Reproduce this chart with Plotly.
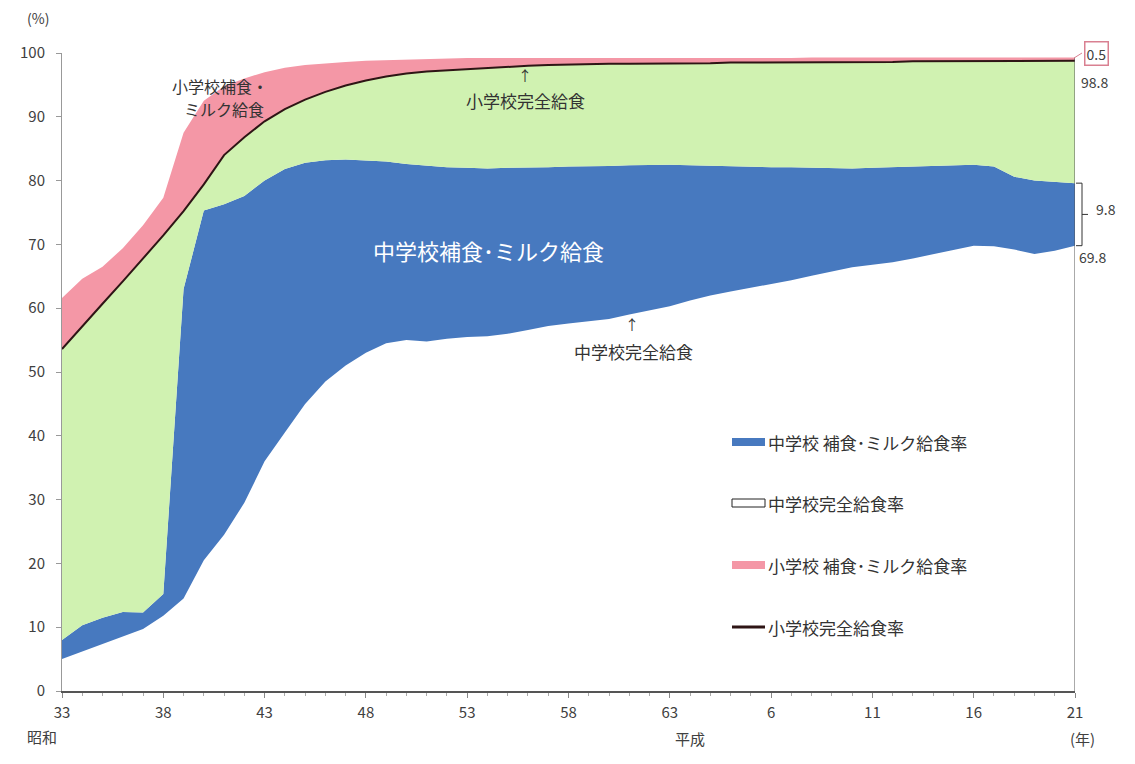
import plotly.graph_objects as go

# School-year categories: Showa 33-63, then Heisei 2-21
year_labels = [str(y) for y in range(33, 64)] + [str(y) for y in range(2, 22)]
tick_every = 5

# Middle school: complete meal rate (%)
jhs_complete = [
    5.0, 6.2, 7.4, 8.5, 9.7, 11.8, 14.5, 20.5, 24.5, 29.5,
    36.0, 40.5, 45.0, 48.5, 51.0, 53.0, 54.5, 55.0, 54.8, 55.2,
    55.5, 55.6, 56.0, 56.6, 57.2, 57.6, 57.9, 58.3, 59.0, 59.6,
    60.3, 61.2, 62.0, 62.6, 63.2, 63.7, 64.4, 65.1, 65.8, 66.4,
    66.8, 67.2, 67.8, 68.5, 69.2, 69.8, 69.7, 69.2, 68.5, 69.0, 69.8,
]
# Middle school: supplementary / milk-only rate (%)
jhs_supp = [
    3.0, 4.1, 4.1, 3.9, 2.6, 3.4, 48.5, 54.8, 51.8, 48.1,
    44.0, 41.3, 37.8, 34.7, 32.3, 30.2, 28.5, 27.6, 27.5, 26.9,
    26.5, 26.3, 26.0, 25.4, 24.9, 24.6, 24.3, 24.0, 23.4, 22.9,
    22.2, 21.2, 20.3, 19.7, 19.0, 18.4, 17.7, 16.9, 16.2, 15.5,
    15.2, 14.9, 14.4, 13.9, 13.3, 12.7, 12.5, 11.4, 11.5, 10.8, 9.8,
]
# Elementary school: complete meal rate (%)
es_complete = [
    53.6, 57.2, 60.7, 64.2, 67.8, 71.4, 75.2, 79.4, 84.0, 86.8,
    89.3, 91.2, 92.7, 93.9, 94.9, 95.7, 96.3, 96.8, 97.1, 97.3,
    97.5, 97.7, 97.9, 98.0, 98.1, 98.2, 98.2, 98.3, 98.3, 98.3,
    98.4, 98.4, 98.4, 98.5, 98.5, 98.5, 98.5, 98.6, 98.6, 98.6,
    98.6, 98.6, 98.7, 98.7, 98.7, 98.7, 98.8, 98.8, 98.8, 98.8, 98.8,
]
# Elementary school: supplementary / milk-only rate (%)
es_supp = [
    8.0, 7.4, 5.8, 5.2, 5.2, 5.9, 12.3, 13.1, 10.8, 9.2,
    7.7, 6.5, 5.4, 4.5, 3.7, 3.1, 2.6, 2.2, 2.0, 1.8,
    1.7, 1.5, 1.3, 1.2, 1.1, 1.0, 0.9, 0.9, 0.8, 0.8,
    0.8, 0.7, 0.7, 0.7, 0.7, 0.7, 0.7, 0.7, 0.7, 0.7,
    0.7, 0.6, 0.6, 0.6, 0.6, 0.6, 0.5, 0.5, 0.5, 0.5, 0.5,
]

BLUE = "#4779BF"
GREEN = "#D0F2B1"
PINK = "#F497A6"
LINE = "#2E1515"
TEXT = "#404040"
FONT = "Noto Sans CJK JP"

x = list(range(len(year_labels)))
# band between the middle-school total and the elementary complete line
gap = [round(e - c - s, 2) for e, c, s in zip(es_complete, jhs_complete, jhs_supp)]
jhs_total = [c + s for c, s in zip(jhs_complete, jhs_supp)]

W, H = 1135, 764
L, R, T, B = 62, 60, 53, 73
PW, PH = W - L - R, H - T - B


def px(xp):
    return (xp - L) / PW


def py(yp):
    return (H - B - yp) / PH


fig = go.Figure()
stack = [
    (jhs_complete, "white", "中学校完全給食率"),
    (jhs_supp, BLUE, "中学校補食・ミルク給食率"),
    (gap, GREEN, "gap"),
    (es_supp, PINK, "小学校補食・ミルク給食率"),
]
for vals, col, nm in stack:
    fig.add_trace(go.Scatter(
        x=x, y=vals, stackgroup="all", mode="lines",
        line=dict(width=0), fillcolor=col, name=nm,
        hoverinfo="skip", showlegend=False,
    ))
fig.add_trace(go.Scatter(
    x=x, y=es_complete, mode="lines", line=dict(color=LINE, width=2),
    name="小学校完全給食率", showlegend=False,
))

tickvals = x[::tick_every]
ticktext = year_labels[::tick_every]

fig.update_layout(
    width=W, height=H,
    margin=dict(l=L, r=R, t=T, b=B),
    paper_bgcolor="white", plot_bgcolor="white",
    font=dict(family=FONT, size=15, color=TEXT),
    xaxis=dict(
        range=[0, len(x) - 1], tickmode="array", tickvals=tickvals, ticktext=ticktext,
        showgrid=False, zeroline=False, showline=True, linecolor="#555555", linewidth=1.5,
        ticks="outside", ticklen=5, tickcolor="#888888",
        minor=dict(ticks="outside", ticklen=3, dtick=1, tickcolor="#aaaaaa"),
        tickfont=dict(size=15, color=TEXT), ticklabelstandoff=2,
    ),
    yaxis=dict(
        range=[0, 100], dtick=10, showgrid=False, zeroline=False,
        showline=True, linecolor="#999999", linewidth=1,
        ticks="outside", ticklen=5, tickcolor="#999999",
        tickfont=dict(size=15, color=TEXT), ticklabelstandoff=8,
    ),
)

ann = []


def label(xp, yp, text, size=15, color=TEXT, anchor="center", **kw):
    ann.append(dict(
        x=px(xp), y=py(yp), xref="paper", yref="paper", text=text,
        showarrow=False, xanchor=anchor, yanchor="middle",
        font=dict(size=size, color=color, family=FONT), **kw,
    ))


label(38, 18, "(%)", size=14)
label(42, 736, "昭和", size=15)
label(690, 738, "平成", size=15)
label(1082, 738, "(年)", size=15)

label(220, 86, "小学校補食・", size=16, color="#333333")
label(224, 109, "ミルク給食", size=16, color="#333333")
label(525, 75, "↑", size=14, color="#333333")
label(525, 101, "小学校完全給食", size=17, color="#333333")
label(488, 250, "中学校補食･ミルク給食", size=22, color="white")
label(632, 324, "↑", size=14, color="#333333")
label(633, 351, "中学校完全給食", size=17, color="#333333")

last = len(x) - 1
# end-of-series values on the right
ann.append(dict(
    x=px(1096), y=es_complete[last] + es_supp[last] + 0.6, xref="paper", yref="y",
    text=f"{es_supp[last]}", showarrow=False, xanchor="center", yanchor="middle",
    font=dict(size=14, color=TEXT, family=FONT),
    bordercolor="#D98091", borderwidth=1.5, borderpad=1,
))
ann.append(dict(
    x=px(1079), y=es_complete[last] - 3.3, xref="paper", yref="y",
    text=f"{es_complete[last]}", showarrow=False, xanchor="left", yanchor="middle",
    font=dict(size=14, color=TEXT, family=FONT),
))
ann.append(dict(
    x=px(1094), y=(jhs_complete[last] + jhs_total[last]) / 2 + 0.8, xref="paper", yref="y",
    text=f"{jhs_supp[last]}", showarrow=False, xanchor="left", yanchor="middle",
    font=dict(size=14, color=TEXT, family=FONT),
))
ann.append(dict(
    x=px(1077), y=jhs_complete[last] - 1.7, xref="paper", yref="y",
    text=f"{jhs_complete[last]}", showarrow=False, xanchor="left", yanchor="middle",
    font=dict(size=14, color=TEXT, family=FONT),
))

# manual legend
legend_rows = [
    ("rect", BLUE, None, "中学校 補食･ミルク給食率"),
    ("rect", "white", "#222222", "中学校完全給食率"),
    ("rect", PINK, None, "小学校 補食･ミルク給食率"),
    ("line", LINE, None, "小学校完全給食率"),
]
row_y = [442, 503, 565, 627]
shapes = []
for (kind, col, border, txt), yy in zip(legend_rows, row_y):
    if kind == "rect":
        shapes.append(dict(
            type="rect", xref="paper", yref="paper",
            x0=px(732), x1=px(765), y0=py(yy + 4), y1=py(yy - 4),
            fillcolor=col, line=dict(color=border or col, width=1 if border else 0),
        ))
    else:
        shapes.append(dict(
            type="line", xref="paper", yref="paper",
            x0=px(732), x1=px(765), y0=py(yy), y1=py(yy),
            line=dict(color=col, width=3),
        ))
    label(766, yy, txt, size=17, color="#333333", anchor="left")

# right edge drop line
shapes.append(dict(
    type="line", xref="x", yref="y", x0=last, x1=last, y0=0,
    y1=es_complete[last] + es_supp[last], line=dict(color="#555555", width=1),
))
# connector to the boxed value
shapes.append(dict(
    type="line", xref="paper", yref="paper",
    x0=px(1074), y0=py(58), x1=px(1082), y1=py(53),
    line=dict(color="#D98091", width=1),
))
# bracket around the middle-school supplementary share
bx, bx0, bx1 = px(1082), px(1076), px(1088)
lo, hi = jhs_complete[last], jhs_total[last]
for seg in [
    (bx, lo, bx, hi), (bx0, lo, bx, lo), (bx0, hi, bx, hi),
    (bx, (lo + hi) / 2, bx1, (lo + hi) / 2),
]:
    shapes.append(dict(
        type="line", xref="paper", yref="y",
        x0=seg[0], y0=seg[1], x1=seg[2], y1=seg[3],
        line=dict(color="#333333", width=1),
    ))

fig.update_layout(annotations=ann, shapes=shapes)
fig.write_html("out.html")
